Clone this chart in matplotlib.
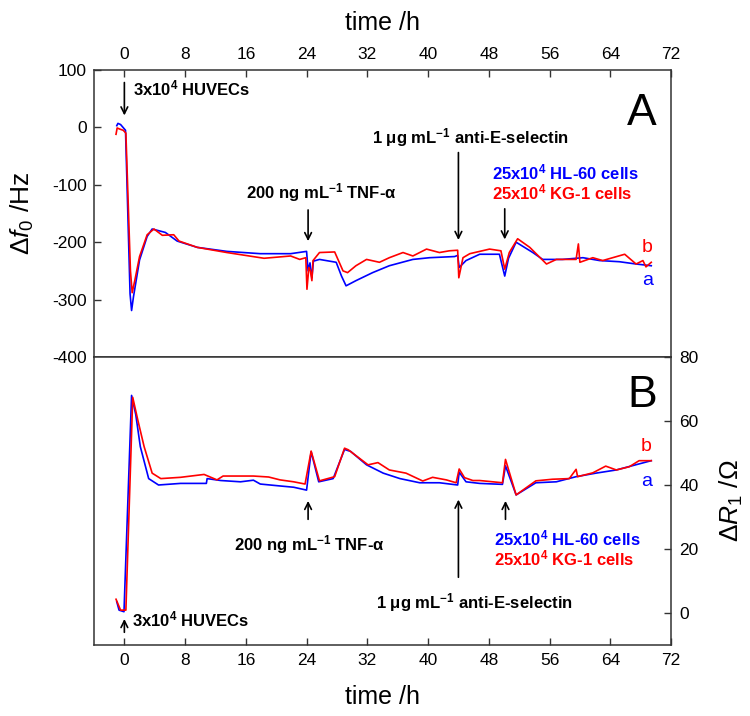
import matplotlib
matplotlib.use("Agg")
import matplotlib.pyplot as plt
from matplotlib import font_manager

names = {f.name for f in font_manager.fontManager.ttflist}
BASE = "Liberation Sans" if "Liberation Sans" in names else "DejaVu Sans"
NARROW = "Liberation Sans Narrow" if "Liberation Sans Narrow" in names else BASE
plt.rcParams["font.family"] = [BASE, "DejaVu Sans"]
plt.rcParams["mathtext.fontset"] = "custom"
plt.rcParams["mathtext.rm"] = BASE
plt.rcParams["mathtext.it"] = BASE + ":italic"
plt.rcParams["mathtext.bf"] = BASE + ":bold"

# ---------------- data ----------------
# Panel A: frequency shift (Hz)
a_f_t = [-1.0, -0.85, -0.5, -0.24, 0.15, 0.75, 0.95, 1.2, 2.0, 3.0, 3.66, 5.4, 6.95, 9.6, 13.5,
         17.9, 21.9, 24.0, 24.2, 24.45, 24.7, 24.9, 25.7, 27.9, 28.6, 29.2, 30.5, 32.7, 34.9,
         38.0, 40.2, 43.5, 43.9, 44.1, 45.0, 46.8, 49.4, 50.1, 50.6, 51.6, 53.8, 55.1, 57.7,
         60.4, 62.6, 65.2, 67.4, 69.4]
a_f_v = [3, 7, 5, 1, -5, -290, -319, -295, -231, -190, -177, -183, -198, -209, -216,
         -220, -220, -216, -250, -236, -262, -233, -230, -235, -259, -276, -267, -253, -241,
         -230, -227, -225, -223, -244, -232, -221, -221, -259, -228, -200, -218, -230, -230,
         -227, -232, -234, -238, -241]

b_f_t = [-1.1, -0.95, -0.6, -0.15, 0.2, 0.8, 1.03, 1.4, 2.0, 3.0, 3.9, 5.0, 6.5, 7.2, 9.6,
         13.5, 18.4, 21.9, 23.1, 23.9, 24.05, 24.3, 24.5, 24.7, 24.85, 25.7, 27.7, 28.8, 29.4,
         30.5, 31.9, 33.6, 34.9, 36.7, 38.0, 39.8, 41.5, 42.8, 43.9, 44.05, 44.6, 45.5, 48.1,
         49.6, 50.1, 50.7, 51.8, 53.4, 55.6, 56.9, 59.5, 59.8, 60.0, 61.7, 63.0, 65.9, 67.4,
         68.3, 68.7, 69.4]
b_f_v = [-12, -1, -3, -5, -10, -250, -288, -265, -225, -187, -177, -188, -187, -198, -209,
         -218, -228, -224, -230, -227, -282, -244, -250, -267, -232, -218, -217, -250, -253,
         -241, -230, -235, -227, -218, -224, -212, -218, -215, -214, -262, -227, -220, -212,
         -215, -247, -218, -194, -209, -238, -230, -230, -203, -235, -227, -232, -221, -238,
         -232, -243, -235]

# Panel B: resistance shift (Ohm)
a_r_t = [-1.0, -0.7, -0.05, 0.95, 1.5, 2.1, 3.2, 4.5, 7.4, 10.8, 10.9, 12.7, 15.3, 17.0, 17.9,
         20.5, 22.3, 24.0, 24.6, 25.6, 27.5, 29.0, 29.8, 31.9, 34.1, 36.3, 38.9, 41.5, 43.9,
         44.1, 45.0, 46.8, 49.8, 50.2, 51.6, 54.2, 56.9, 59.5, 62.1, 64.8, 69.4]
a_r_v = [3.5, 0.9, 0.4, 68, 62, 52, 42, 40, 40.5, 40.5, 42, 41.4, 41, 41.5, 40.3,
         39.7, 39.3, 38.4, 50.4, 41, 42, 51.1, 50.5, 46.3, 43.7, 42, 40.7, 40.7, 40,
         44, 41, 40.5, 40.2, 46, 36.9, 40.7, 41, 42.6, 43.7, 44.7, 47.6]

b_r_t = [-1.1, -0.5, 0.2, 1.1, 1.8, 2.6, 3.66, 4.8, 7.4, 10.5, 12.2, 13.0, 15.5, 17.0, 19.0,
         20.5, 22.3, 23.8, 24.6, 25.7, 27.7, 29.0, 29.5, 32.1, 33.4, 34.9, 37.1, 39.3, 40.6,
         42.4, 43.7, 44.1, 44.8, 45.9, 46.8, 49.8, 50.2, 51.6, 54.2, 56.4, 58.6, 59.5, 59.7,
         61.7, 63.4, 64.8, 66.5, 67.8, 69.4]
b_r_v = [4.3, 0.9, 0.9, 67.4, 60, 52, 43.7, 42, 42.4, 43.3, 41.6, 42.8, 42.8, 42.8, 42.5,
         41.6, 41, 40.3, 50.6, 41.3, 42.6, 51.5, 51, 46.3, 47, 44.7, 43.7, 41.25, 42.4,
         41.6, 40.7, 45, 42.3, 41.4, 41.4, 40.7, 48, 36.9, 41.3, 41.8, 42, 44.9, 42.6,
         43.8, 45.9, 44.7, 45.7, 47.6, 47.6]

x_ticks = [0, 8, 16, 24, 32, 40, 48, 56, 64, 72]
f_ticks = [100, 0, -100, -200, -300, -400]
r_ticks = [0, 20, 40, 60, 80]

BLUE = "#0000ff"
RED = "#ff0000"
SPINE = "#333333"

fig = plt.figure(figsize=(7.5, 7.16), dpi=100)
L, W = 94 / 750, (671 - 94) / 750
axA = fig.add_axes([L, 1 - 357 / 716, W, (357 - 70) / 716])
axB = fig.add_axes([L, 1 - 645 / 716, W, (645 - 357) / 716])

for ax in (axA, axB):
    ax.set_xlim(-4, 72)
    for s in ax.spines.values():
        s.set_color(SPINE)
        s.set_linewidth(1.1)

# ---- Panel A ----
axA.plot(a_f_t, a_f_v, color=BLUE, lw=1.2, zorder=3)
axA.plot(b_f_t, b_f_v, color=RED, lw=1.2, zorder=4)
axA.set_ylim(-400, 100)
axA.set_yticks(f_ticks)
axA.set_yticklabels([str(v) for v in f_ticks], fontsize=12.5)
axA.xaxis.set_ticks_position("top")
axA.xaxis.set_label_position("top")
axA.set_xticks(x_ticks)
axA.set_xticklabels([str(v) for v in x_ticks], fontsize=12.5, family=NARROW)
axA.tick_params(direction="in", length=5, width=1, color=SPINE, pad=5)
axA.tick_params(axis="x", pad=6)
axA.set_xlabel("time /h", fontsize=18, family=NARROW, labelpad=12)
axA.set_ylabel(r"$\Delta \mathit{f}_0$ /Hz", fontsize=19, labelpad=12)

# ---- Panel B ----
axB.plot(a_r_t, a_r_v, color=BLUE, lw=1.2, zorder=3)
axB.plot(b_r_t, b_r_v, color=RED, lw=1.2, zorder=4)
axB.set_ylim(-10, 80)
axB.yaxis.set_ticks_position("right")
axB.yaxis.set_label_position("right")
axB.set_yticks(r_ticks)
axB.set_yticklabels([str(v) for v in r_ticks], fontsize=12.5)
axB.set_xticks(x_ticks)
axB.set_xticklabels([str(v) for v in x_ticks], fontsize=12.5, family=NARROW)
axB.tick_params(direction="in", length=5, width=1, color=SPINE, pad=6)
axB.set_xlabel("time /h", fontsize=18, family=NARROW, labelpad=12)
axB.set_ylabel(r"$\Delta \mathit{R}_1$ /$\Omega$", fontsize=19, labelpad=14,
               rotation=90)

AP = dict(arrowstyle="->", color="black", lw=1.2, mutation_scale=12)
FS = 12
TXT = dict(fontsize=FS, fontweight="bold", color="black")

# Annotations panel A
axA.annotate("", xy=(0, 16), xytext=(0, 83), arrowprops=AP)
axA.text(1.2, 67, r"3x10$^{\mathbf{4}}$ HUVECs", ha="left", va="center", **TXT)
axA.annotate("", xy=(24.2, -203), xytext=(24.2, -139), arrowprops=AP)
axA.text(26.0, -114, r"200 ng mL$^{\mathbf{-1}}$ TNF-$\mathbf{\alpha}$", ha="center", va="center", **TXT)
axA.annotate("", xy=(44.0, -201), xytext=(44.0, -39), arrowprops=AP)
axA.text(45.6, -17, r"1 $\mathbf{\mu}$g mL$^{\mathbf{-1}}$ anti-E-selectin", ha="center", va="center", **TXT)
axA.annotate("", xy=(50.1, -200), xytext=(50.1, -137), arrowprops=AP)
axA.text(48.4, -78, r"25x10$^{\mathbf{4}}$ HL-60 cells", ha="left", va="center",
         fontsize=FS, fontweight="bold", color=BLUE)
axA.text(48.4, -114, r"25x10$^{\mathbf{4}}$ KG-1 cells", ha="left", va="center",
         fontsize=FS, fontweight="bold", color=RED)
axA.text(68.9, -210, "b", color=RED, fontsize=14, ha="center", va="center")
axA.text(68.9, -266, "a", color=BLUE, fontsize=14, ha="center", va="center")
axA.text(68.1, 25, "A", fontsize=32, ha="center", va="center")

# Annotations panel B
axB.annotate("", xy=(0, -1.0), xytext=(0, -6.9), arrowprops=AP)
axB.text(1.0, -2.1, r"3x10$^{\mathbf{4}}$ HUVECs", ha="left", va="center", **TXT)
axB.annotate("", xy=(24.2, 35.9), xytext=(24.2, 28.4), arrowprops=AP)
axB.text(24.4, 21.3, r"200 ng mL$^{\mathbf{-1}}$ TNF-$\mathbf{\alpha}$", ha="center", va="center", **TXT)
axB.annotate("", xy=(44.0, 36.3), xytext=(44.0, 10.3), arrowprops=AP)
axB.text(46.1, 3.4, r"1 $\mathbf{\mu}$g mL$^{\mathbf{-1}}$ anti-E-selectin", ha="center", va="center", **TXT)
axB.annotate("", xy=(50.2, 35.9), xytext=(50.2, 28.4), arrowprops=AP)
axB.text(48.75, 23.4, r"25x10$^{\mathbf{4}}$ HL-60 cells", ha="left", va="center",
         fontsize=FS, fontweight="bold", color=BLUE)
axB.text(48.75, 17.2, r"25x10$^{\mathbf{4}}$ KG-1 cells", ha="left", va="center",
         fontsize=FS, fontweight="bold", color=RED)
axB.text(68.75, 51.9, "b", color=RED, fontsize=14, ha="center", va="center")
axB.text(68.75, 41.0, "a", color=BLUE, fontsize=14, ha="center", va="center")
axB.text(68.2, 68.1, "B", fontsize=32, ha="center", va="center")

fig.savefig("out.png", dpi=100)
